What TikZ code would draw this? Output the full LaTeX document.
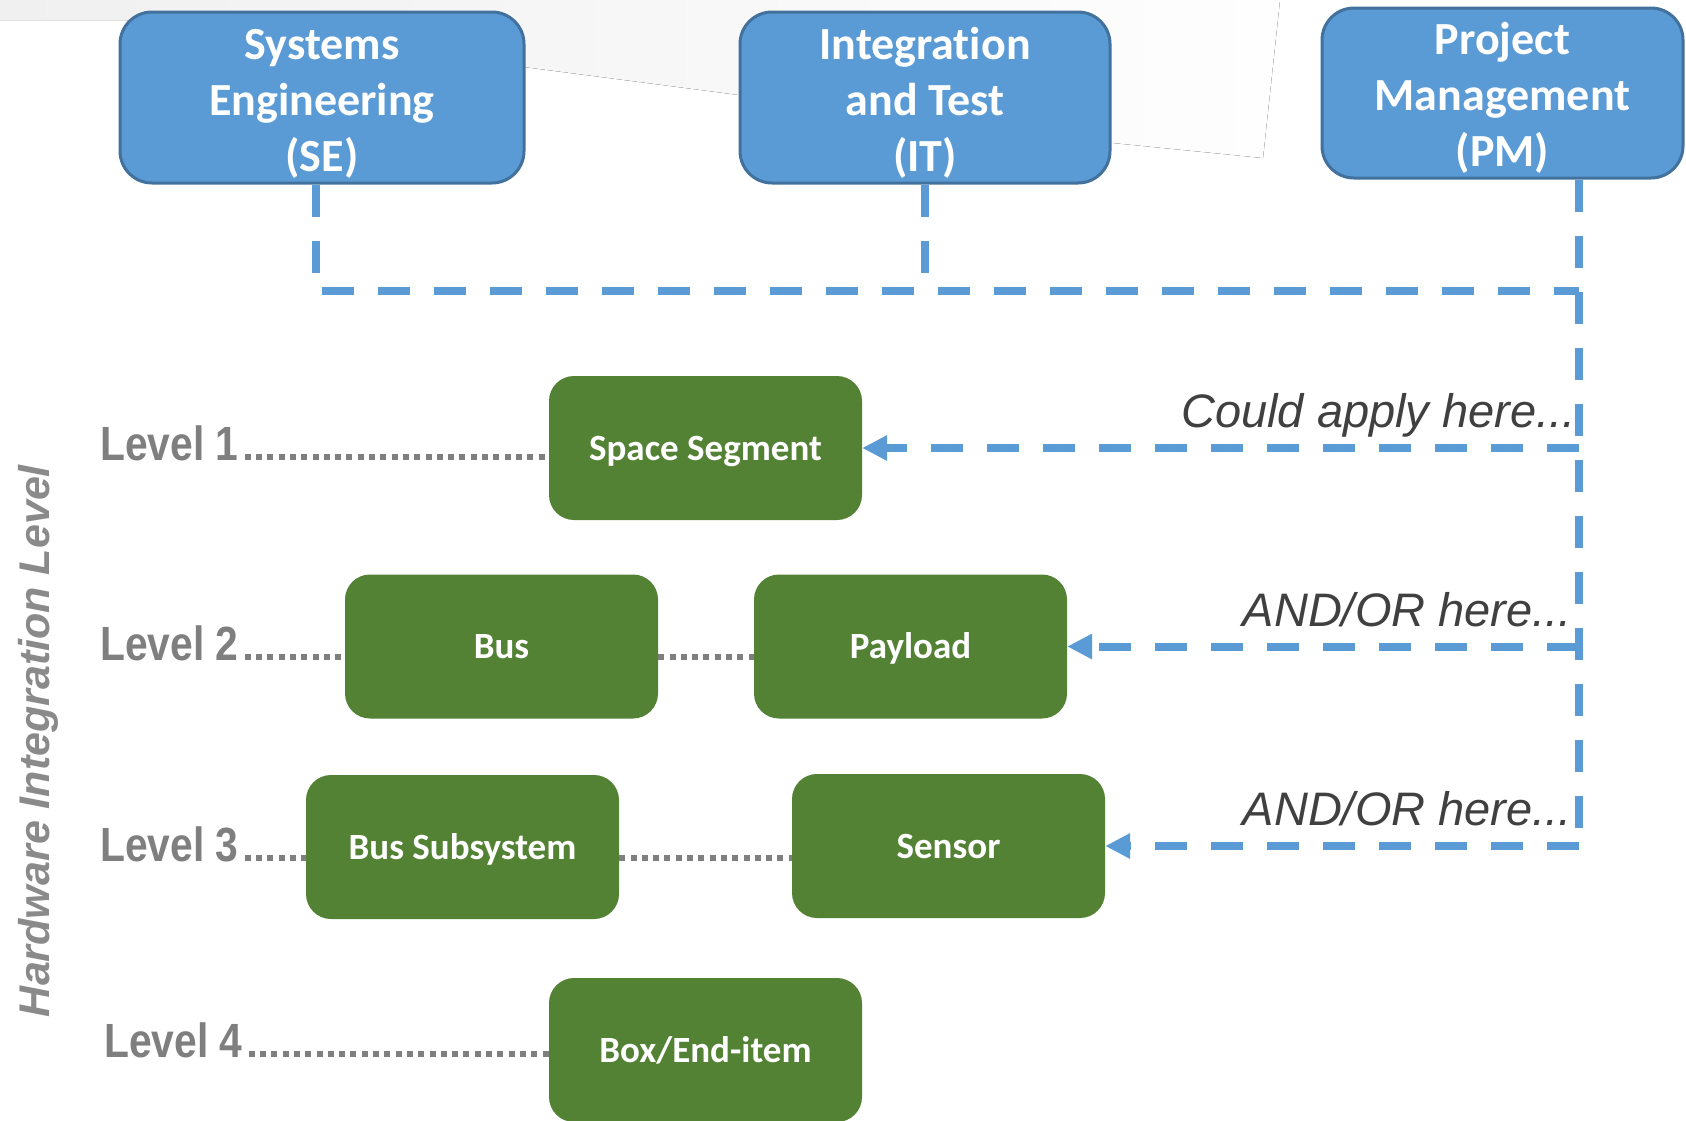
\documentclass[tikz,border=0pt]{standalone}
\usepackage{fontspec}
\setmainfont{Liberation Sans}
\newfontfamily\boxfont[Ligatures=NoCommon]{Carlito}
\newfontfamily\narrowfont[FakeStretch=0.85]{Liberation Sans}
\usetikzlibrary{arrows.meta}

\definecolor{boxblue}{HTML}{5B9BD5}
\definecolor{boxedge}{HTML}{41719C}
\definecolor{boxgreen}{HTML}{548235}
\definecolor{levgray}{HTML}{7F7F7F}
\definecolor{sidegray}{HTML}{8A8A8A}
\definecolor{notegray}{HTML}{404040}
\definecolor{bgA}{HTML}{F0F0F0}
\definecolor{bgB}{HTML}{FEFEFE}

% strut that lowers a three-line label inside its box
\newcommand{\toplift}{\rule{0pt}{42pt}}

\begin{document}
\begin{tikzpicture}[x=1pt,y=-1pt,
  topbox/.style={draw=boxedge, line width=3pt, fill=boxblue, rounded corners=32pt,
    text=white, font=\boxfont\bfseries\fontsize{46}{56}\selectfont, align=center, inner sep=0pt},
  grnbox/.style={fill=boxgreen, rounded corners=25pt, text=white,
    font=\boxfont\bfseries\fontsize{37}{44}\selectfont,
    text height=30pt, text depth=6pt,
    minimum width=313pt, minimum height=144pt, inner sep=0pt},
  levlab/.style={text=levgray, font=\narrowfont\bfseries\fontsize{48}{56}\selectfont,
    inner sep=0pt, anchor=base west},
  note/.style={text=notegray, font=\itshape\fontsize{47}{56}\selectfont,
    inner sep=0pt, anchor=base east},
  link/.style={draw=boxblue, line width=8pt, dash pattern=on 32pt off 24pt},
  feed/.style={link, -{Triangle[length=25pt,width=24pt]}},
  dots/.style={draw=levgray, line width=6pt, dash pattern=on 6pt off 5.3pt}]

\useasboundingbox (0,0) rectangle (1686,1120);
\fill[white] (0,0) rectangle (1686,1120);

% faint backdrop band along the top
\fill[left color=bgA, right color=bgB] (0,0) -- (0,20) -- (125,20) -- (524,67)
  -- (739,95) -- (1113,143) -- (1263,158) -- (1280,0) -- cycle;

% functional areas
\node[topbox, minimum width=404pt, minimum height=171pt] (SE) at (322,97.5)
  {\toplift Systems\\Engineering\\(SE)};
\node[topbox, minimum width=370pt, minimum height=171pt] (IT) at (925,97.5)
  {\toplift Integration\\and Test\\(IT)};
\node[topbox, minimum width=361pt, minimum height=170pt] (PM) at (1502.5,93)
  {\toplift Project\\Management\\(PM)};

% hardware items
\node[grnbox] (SS)   at (705.5,448)   {Space Segment};
\node[grnbox] (Bus)  at (501.5,646.5) {Bus};
\node[grnbox] (Pay)  at (910.5,646.5) {Payload};
\node[grnbox] (BSub) at (462.5,847)   {Bus Subsystem};
\node[grnbox] (Sen)  at (948.5,846)   {Sensor};
\node[grnbox] (Box)  at (705.5,1050)  {Box/End-item};

% level labels
\node[levlab] (L1) at (100,460)  {Level 1};
\node[levlab] (L2) at (100,660)  {Level 2};
\node[levlab] (L3) at (100,861)  {Level 3};
\node[levlab] (L4) at (104,1057) {Level 4};

\node[rotate=90, text=sidegray, inner sep=0pt,
  font=\bfseries\itshape\fontsize{43}{50}\selectfont] (side) at (38,741)
  {Hardware Integration Level};

% dotted leaders
\coordinate (d1) at ([xshift=6pt,yshift=3pt]L1.base east);
\coordinate (d2) at ([xshift=6pt,yshift=3pt]L2.base east);
\coordinate (d3) at ([xshift=6pt,yshift=3pt]L3.base east);
\coordinate (d4) at ([xshift=6pt,yshift=3pt]L4.base east);
\draw[dots] (d1) -- (d1 -| SS.west);
\draw[dots] (d2) -- (d2 -| Bus.west);
\draw[dots] (d2 -| Bus.east) -- (d2 -| Pay.west);
\draw[dots] (d3) -- (d3 -| BSub.west);
\draw[dots] (d3 -| BSub.east) -- (d3 -| Sen.west);
\draw[dots] (d4) -- (d4 -| Box.west);

% dashed application lines
\coordinate (jSE)  at (316,291);
\coordinate (jPM)  at (1579,291);
\coordinate (jEnd) at (1579,846);
\draw[link] (SE.south -| jSE) -- (jSE) -- (jPM);
\draw[link] (IT.south) -- (IT.south |- jSE);
\draw[link] (PM.south -| jPM) -- (jEnd);
\draw[feed] (jPM |- SS.east) -- (SS.east);
\draw[feed] (jPM |- Pay.east) -- (Pay.east);
\draw[feed] (jEnd) -- (jEnd -| Sen.east);

% notes
\node[note] (n1) at (1576,427) {Could apply here...};
\node[note] (n2) at (1572,626) {AND/OR here...};
\node[note] (n3) at (1572,825) {AND/OR here...};
\end{tikzpicture}
\end{document}
